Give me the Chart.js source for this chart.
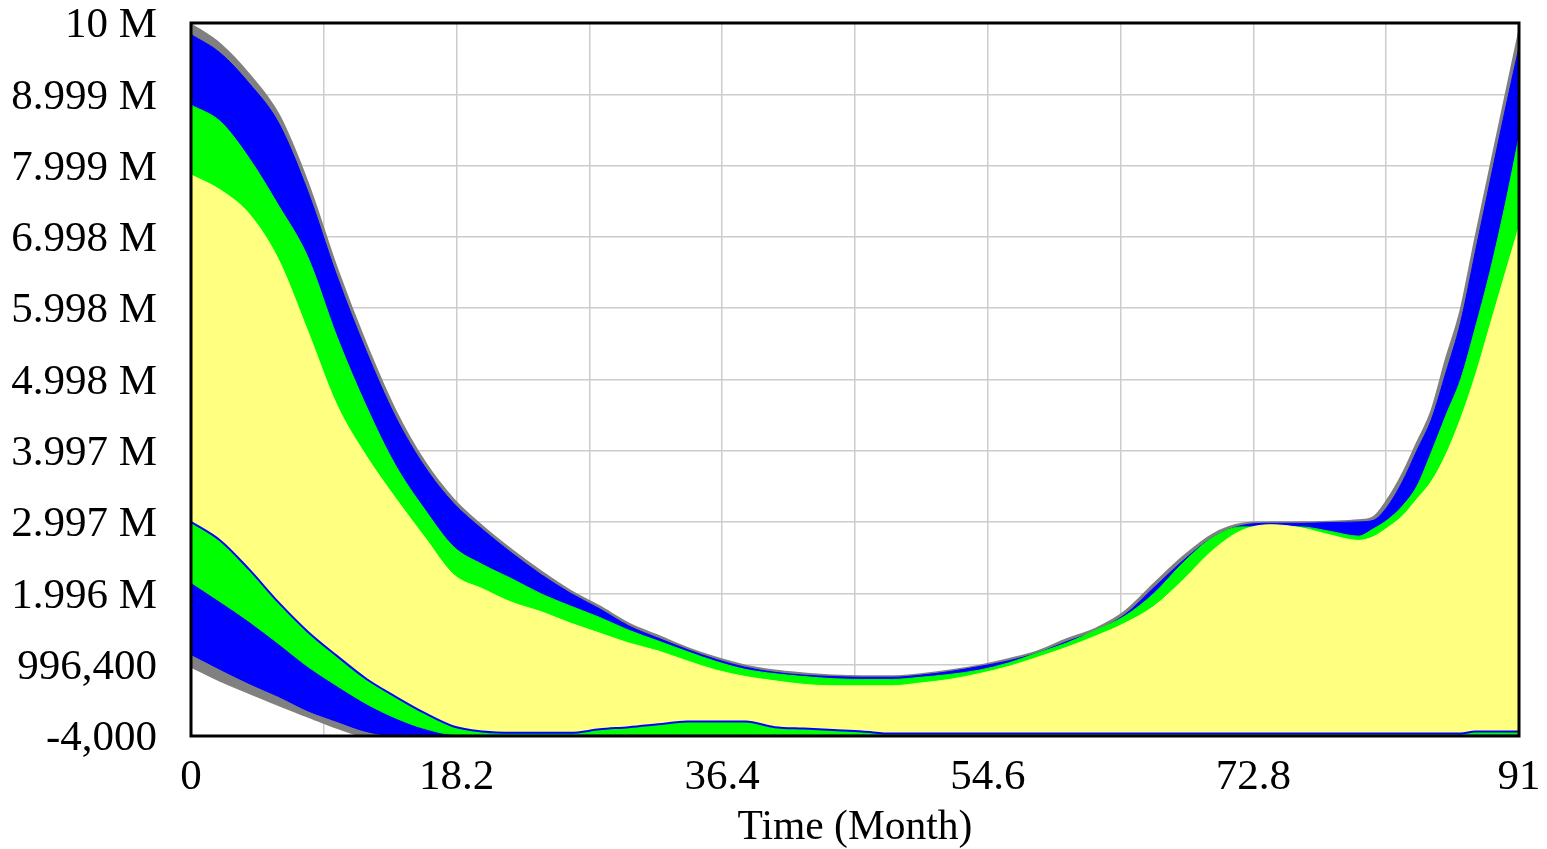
<!DOCTYPE html>
<html><head><meta charset="utf-8">
<script src="https://cdn.jsdelivr.net/npm/chart.js@4.4.1/dist/chart.umd.min.js"></script>
<style>html,body{margin:0;padding:0;background:#fff;}canvas{display:block;}</style>
</head><body>
<canvas id="c" width="1547" height="849"></canvas>
<script>
// Time (Month)
const months = [0,2,4,6,8,10,12,14,16,18,20,22,24,26,28,30,32,34,36,38,40,42,44,46,48,50,52,54,56,58,60,62,64,66,68,70,72,74,76,78,80,81,82,83,84,85,86,87,88,89,90,91];
// Sensitivity envelope values, in millions
const runMax = [9.98,9.70,9.27,8.71,7.75,6.55,5.49,4.56,3.84,3.31,2.93,2.60,2.30,2.03,1.81,1.57,1.40,1.23,1.09,0.98,0.91,0.87,0.84,0.83,0.83,0.86,0.91,0.98,1.07,1.18,1.35,1.50,1.74,2.13,2.51,2.82,2.97,2.99,2.99,3.00,3.02,3.06,3.31,3.66,4.10,4.55,5.28,5.96,6.96,7.93,8.90,9.86];
const p975 = [9.84,9.58,9.15,8.60,7.64,6.45,5.40,4.48,3.78,3.26,2.89,2.56,2.26,2.00,1.78,1.54,1.37,1.21,1.07,0.96,0.89,0.85,0.83,0.82,0.82,0.85,0.90,0.97,1.05,1.16,1.32,1.47,1.70,2.08,2.46,2.78,2.95,2.98,2.98,2.99,3.00,3.02,3.22,3.56,4.00,4.44,5.10,5.80,6.78,7.76,8.73,9.66];
const p875 = [8.85,8.62,8.10,7.44,6.72,5.60,4.63,3.80,3.18,2.65,2.40,2.20,1.99,1.82,1.66,1.48,1.33,1.18,1.04,0.93,0.87,0.83,0.80,0.79,0.79,0.82,0.86,0.92,1.02,1.16,1.30,1.48,1.68,2.00,2.43,2.78,2.93,2.93,2.93,2.87,2.80,2.90,3.03,3.22,3.50,3.98,4.50,5.00,5.72,6.50,7.40,8.40];
const p75 = [7.87,7.66,7.32,6.68,5.68,4.64,3.93,3.34,2.79,2.26,2.06,1.87,1.74,1.58,1.44,1.30,1.19,1.05,0.92,0.83,0.77,0.72,0.70,0.70,0.70,0.74,0.79,0.87,0.97,1.10,1.24,1.40,1.58,1.82,2.19,2.60,2.88,2.96,2.92,2.82,2.74,2.79,2.92,3.08,3.32,3.57,3.95,4.45,5.05,5.75,6.45,7.14];
const p25 = [3.00,2.74,2.33,1.87,1.46,1.12,0.80,0.55,0.32,0.13,0.06,0.04,0.04,0.04,0.09,0.12,0.16,0.20,0.20,0.20,0.12,0.10,0.08,0.06,0.03,0.03,0.03,0.03,0.03,0.03,0.03,0.03,0.03,0.03,0.03,0.03,0.03,0.03,0.03,0.03,0.03,0.03,0.03,0.03,0.03,0.03,0.03,0.03,0.06,0.06,0.06,0.06];
const p125 = [2.15,1.88,1.60,1.29,0.97,0.70,0.45,0.25,0.10,0.02,0.02,0.02,0.02,0.02,0.02,0.02,0.02,0.02,0.02,0.02,0.02,0.02,0.02,0.02,0.02,0.02,0.02,0.02,0.02,0.02,0.02,0.02,0.02,0.02,0.02,0.02,0.02,0.02,0.02,0.02,0.02,0.02,0.02,0.02,0.02,0.02,0.02,0.02,0.02,0.02,0.02,0.02];
const p025 = [1.14,0.93,0.73,0.55,0.35,0.20,0.06,0,0,0,0,0,0,0,0,0,0,0,0,0,0,0,0,0,0,0,0,0,0,0,0,0,0,0,0,0,0,0,0,0,0,0,0,0,0,0,0,0,0,0,0,0];
const runMin = [0.97,0.77,0.60,0.43,0.27,0.11,0,0,0,0,0,0,0,0,0,0,0,0,0,0,0,0,0,0,0,0,0,0,0,0,0,0,0,0,0,0,0,0,0,0,0,0,0,0,0,0,0,0,0,0,0,0];

const yTickValues = [-0.004,0.9964,1.9968,2.9972,3.9976,4.998,5.9984,6.9988,7.9992,8.9996,10];
const yTickLabels = ['-4,000','996,400','1.996 M','2.997 M','3.997 M','4.998 M','5.998 M','6.998 M','7.999 M','8.999 M','10 M'];
const xTickValues = [0,9.1,18.2,27.3,36.4,45.5,54.6,63.7,72.8,81.9,91];
const xTickLabels = ['0','','18.2','','36.4','','54.6','','72.8','','91'];

const GRAY='#808080', BLUE='#0000ff', GREEN='#00ff00', YELLOW='#ffff80';
const FONT = "'Liberation Serif','Times New Roman',serif";
const pts = arr => months.map((t,i)=>({x:t,y:arr[i]}));
const band = (data, color, target, bw) => ({data: pts(data), backgroundColor: color, borderColor: color, borderWidth: bw||0,
  fill: target===null?false:{target: target}, pointRadius: 0, cubicInterpolationMode: 'monotone'});

const frame = {
  id: 'frame',
  afterDraw(chart){
    const a = chart.chartArea, ctx = chart.ctx;
    ctx.save(); ctx.strokeStyle = '#000'; ctx.lineWidth = 3;
    ctx.strokeRect(a.left, a.top, a.right - a.left, a.bottom - a.top);
    ctx.restore();
  }
};

new Chart(document.getElementById('c'), {
  type: 'line',
  data: {
    datasets: [
      {data: pts(p25), borderColor: BLUE, borderWidth: 2, fill: false, pointRadius: 0, cubicInterpolationMode: 'monotone'},
      band(p75, YELLOW, 2, 1),
      band(p25, YELLOW, null, 0),
      band(p875, GREEN, 4, 1),
      band(p125, GREEN, null, 1),
      band(p975, BLUE, 6, 1),
      band(p025, BLUE, null, 1),
      band(runMax, GRAY, 8, 2.5),
      band(runMin, GRAY, null, 2)
    ]
  },
  options: {
    responsive: false, animation: false, devicePixelRatio: 1,
    layout: {padding: {top: 23, right: 28, left: 0, bottom: 0}},
    plugins: {legend: {display: false}, tooltip: {enabled: false}},
    scales: {
      x: {
        type: 'linear', min: 0, max: 91, position: 'bottom', z: 1,
        afterBuildTicks: s => { s.ticks = xTickValues.map(v => ({value: v})); },
        afterFit: s => { s.height = 113; s.paddingLeft = 0; s.paddingRight = 0; s.paddingTop = 0; s.paddingBottom = 0; },
        grid: {color: '#cccccc', lineWidth: 1.5, drawTicks: false},
        border: {display: false},
        ticks: {autoSkip: false, maxRotation: 0, padding: 16, color: '#000',
          font: {family: FONT, size: 43},
          callback: (v, i) => xTickLabels[i]},
        title: {display: true, text: 'Time (Month)', color: '#000',
          font: {family: FONT, size: 41.5, lineHeight: 1}, padding: {top: 0, bottom: 0}}
      },
      y: {
        type: 'linear', min: -0.004, max: 10, z: 1,
        afterBuildTicks: s => { s.ticks = yTickValues.map(v => ({value: v})); },
        afterFit: s => { s.width = 191; s.paddingTop = 0; s.paddingBottom = 0; s.paddingLeft = 0; s.paddingRight = 0; },
        grid: {color: '#cccccc', lineWidth: 1.5, drawTicks: false},
        border: {display: false},
        ticks: {autoSkip: false, padding: 34, color: '#000', labelOffset: 3,
          font: {family: FONT, size: 43},
          callback: (v, i) => yTickLabels[i]}
      }
    }
  },
  plugins: [frame]
});
</script>
</body></html>
